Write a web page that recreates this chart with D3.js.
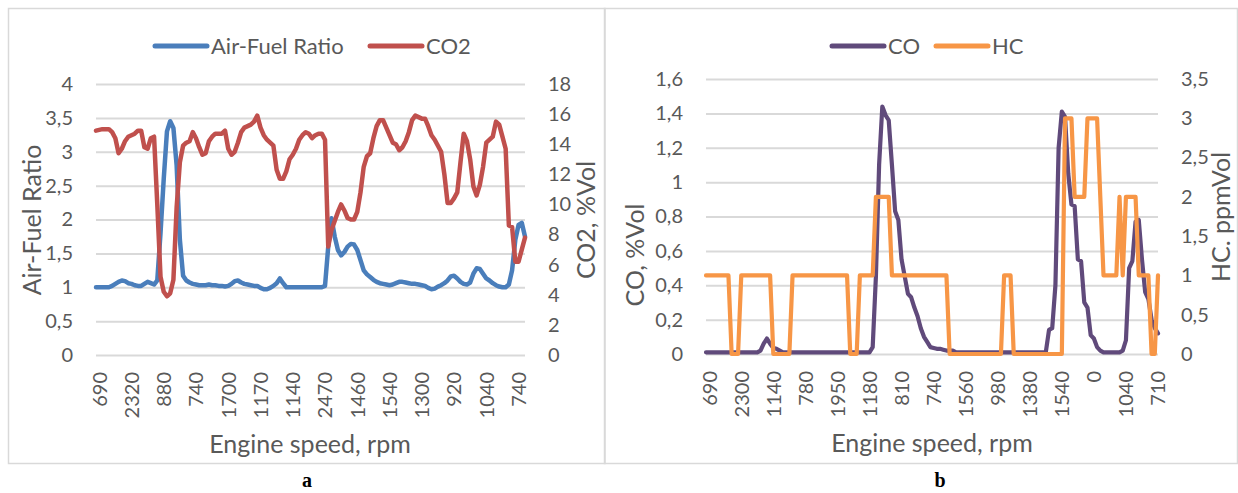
<!DOCTYPE html>
<html>
<head>
<meta charset="utf-8">
<script src="https://cdn.jsdelivr.net/npm/d3@7"></script>
<style>
  html, body { margin: 0; padding: 0; background: #fff; }
  svg { display: block; }
  text { font-family: Lato, "Open Sans", sans-serif; fill: #595959; }
  .panel-letter { font-family: "Liberation Serif", "Times New Roman", serif; font-weight: bold; fill: #000; }
</style>
</head>
<body>
<svg id="chart" width="1238" height="493"></svg>
<script>
// ---- Panel a: air-fuel ratio and CO2 against engine speed ----
const speedLabelsA = ["690","2320","880","740","1700","1170","1140","2470","1460","1540","1300","920","1040","740"];

const airFuelRatio = [
  1.0, 1.0, 1.0, 1.0, 1.0, 1.02, 1.05, 1.08, 1.1, 1.09,
  1.06, 1.05, 1.03, 1.02, 1.02, 1.05, 1.08, 1.06, 1.04, 1.1,
  1.8, 2.6, 3.3, 3.45, 3.35, 2.8, 1.7, 1.17, 1.1, 1.07,
  1.05, 1.04, 1.03, 1.03, 1.03, 1.04, 1.03, 1.03, 1.02, 1.02,
  1.01, 1.02, 1.05, 1.09, 1.1, 1.07, 1.05, 1.04, 1.03, 1.02,
  1.02, 0.99, 0.97, 0.97, 0.99, 1.02, 1.06, 1.13, 1.06, 1.0,
  1.0, 1.0, 1.0, 1.0, 1.0, 1.0, 1.0, 1.0, 1.0, 1.0,
  1.0, 1.02, 1.6, 2.02, 1.75, 1.55, 1.47, 1.52, 1.6, 1.64,
  1.63, 1.55, 1.4, 1.25, 1.19, 1.15, 1.11, 1.08, 1.06, 1.05,
  1.04, 1.03, 1.04, 1.06, 1.08, 1.08, 1.07, 1.06, 1.05, 1.05,
  1.04, 1.03, 1.02, 0.99, 0.97, 0.98, 1.01, 1.03, 1.06, 1.1,
  1.16, 1.17, 1.13, 1.08, 1.05, 1.04, 1.07, 1.2, 1.28, 1.27,
  1.2, 1.13, 1.1, 1.06, 1.03, 1.01, 1.0, 1.0, 1.04, 1.25,
  1.7, 1.92, 1.95, 1.75
];

const co2 = [
  14.9, 14.95, 15.0, 15.0, 15.0, 14.8, 14.4, 13.4, 13.7, 14.2,
  14.5, 14.6, 14.7, 14.9, 14.9, 13.8, 13.7, 14.4, 14.5, 10.0,
  5.2, 4.2, 3.9, 4.1, 5.0, 9.8, 12.8, 13.9, 14.1, 14.2,
  14.8, 14.4, 13.8, 13.3, 13.4, 14.2, 14.5, 14.7, 14.7, 14.7,
  14.9, 13.7, 13.3, 13.5, 14.1, 14.8, 15.1, 15.2, 15.3, 15.5,
  15.9, 15.1, 14.6, 14.3, 14.1, 13.9, 12.3, 11.7, 11.7, 12.2,
  13.0, 13.3, 13.7, 14.3, 14.6, 14.8, 14.7, 14.4, 14.6, 14.7,
  14.7, 14.3, 7.2, 8.3, 8.9, 9.5, 10.0, 9.6, 9.1, 9.0,
  9.0, 9.5, 10.8, 12.5, 13.2, 13.4, 14.4, 15.2, 15.6, 15.6,
  15.1, 14.6, 14.1, 14.0, 13.6, 13.8, 14.2, 14.8, 15.6, 15.9,
  15.8, 15.7, 15.7, 15.2, 14.6, 14.3, 13.9, 13.5, 12.0, 10.1,
  10.1, 10.4, 10.8, 12.8, 14.7, 14.2, 13.0, 11.2, 10.6, 11.3,
  12.5, 14.1, 14.3, 14.5, 15.5, 15.3, 14.5, 13.7, 8.6, 8.5,
  6.2, 6.2, 7.0, 7.8
];

const afrTickLabels = ["0", "0,5", "1", "1,5", "2", "2,5", "3", "3,5", "4"];
const co2TickLabels = ["0", "2", "4", "6", "8", "10", "12", "14", "16", "18"];

// ---- Panel b: CO and HC against engine speed ----
const speedLabelsB = ["690","2300","1140","780","1950","1180","810","740","1560","980","1380","1540","0","1040","710"];

const co = [
  0.01, 0.01, 0.01, 0.01, 0.01, 0.01, 0.01, 0.01, 0.01, 0.01,
  0.01, 0.01, 0.01, 0.01, 0.01, 0.01, 0.01, 0.02, 0.06, 0.09,
  0.06, 0.035, 0.03, 0.02, 0.01, 0.01, 0.01, 0.01, 0.01, 0.01,
  0.01, 0.01, 0.01, 0.01, 0.01, 0.01, 0.01, 0.01, 0.01, 0.01,
  0.01, 0.01, 0.01, 0.01, 0.01, 0.01, 0.01, 0.01, 0.01, 0.01,
  0.01, 0.01, 0.04, 0.45, 1.1, 1.44, 1.39, 1.36, 1.1, 0.83,
  0.78, 0.55, 0.45, 0.35, 0.33, 0.27, 0.22, 0.15, 0.1, 0.07,
  0.04, 0.035, 0.03, 0.03, 0.025, 0.02, 0.02, 0.02, 0.01, 0.01,
  0.01, 0.01, 0.01, 0.01, 0.01, 0.01, 0.01, 0.01, 0.01, 0.01,
  0.01, 0.01, 0.01, 0.01, 0.01, 0.01, 0.01, 0.01, 0.01, 0.01,
  0.01, 0.01, 0.01, 0.01, 0.01, 0.01, 0.01, 0.14, 0.15, 0.4,
  1.2, 1.41, 1.38, 1.05, 0.87, 0.86, 0.55, 0.54, 0.3, 0.27,
  0.11, 0.09, 0.04, 0.02, 0.01, 0.01, 0.01, 0.01, 0.01, 0.01,
  0.02, 0.08, 0.5, 0.54, 0.77, 0.78, 0.55, 0.36, 0.32, 0.2,
  0.15, 0.12
];

const hc = [
  1, 1, 1, 1, 1, 1, 1, 1, 0, 0,
  0, 1, 1, 1, 1, 1, 1, 1, 1, 1,
  1, 0, 0, 0, 0, 0, 0, 1, 1, 1,
  1, 1, 1, 1, 1, 1, 1, 1, 1, 1,
  1, 1, 1, 1, 1, 0, 0, 0, 1, 1,
  1, 1, 1, 2, 2, 2, 2, 2, 1, 1,
  1, 1, 1, 1, 1, 1, 1, 1, 1, 1,
  1, 1, 1, 1, 1, 1, 0, 0, 0, 0,
  0, 0, 0, 0, 0, 0, 0, 0, 0, 0,
  0, 0, 0, 1, 1, 1, 0, 0, 0, 0,
  0, 0, 0, 0, 0, 0, 0, 0, 0, 0,
  0, 0, 3, 3, 3, 2, 2, 2, 2, 3,
  3, 3, 3, 2, 1, 1, 1, 1, 1, 2,
  1, 2, 2, 2, 2, 1, 1, 1, 1, 0,
  0, 1
];

const coTickLabels = ["0", "0,2", "0,4", "0,6", "0,8", "1", "1,2", "1,4", "1,6"];
const hcTickLabels = ["0", "0,5", "1", "1,5", "2", "2,5", "3", "3,5"];

// ---- drawing ----
const svg = d3.select("#chart");
const toNumber = s => +s.replace(",", ".");

function drawPanel(cfg) {
  const g = svg.append("g");

  // chart frame
  g.append("rect")
    .attr("x", cfg.frame[0]).attr("y", cfg.frame[1])
    .attr("width", cfg.frame[2]).attr("height", cfg.frame[3])
    .attr("fill", "none").attr("stroke", "#d9d9d9").attr("stroke-width", 1.5);

  const n = cfg.series[0].values.length;
  const x = d3.scaleLinear().domain([0, n - 1]).range([cfg.left, cfg.right]);
  const leftVals = cfg.leftTicks.map(toNumber);
  const rightVals = cfg.rightTicks.map(toNumber);
  const yL = d3.scaleLinear().domain([0, d3.max(leftVals)]).range([cfg.bottom, cfg.top]);
  const yR = d3.scaleLinear().domain([0, d3.max(rightVals)]).range([cfg.bottom, cfg.top]);

  // horizontal gridlines
  const grid = g.append("g")
    .attr("transform", `translate(${cfg.left},0)`)
    .call(d3.axisLeft(yL).tickValues(leftVals).tickSize(-(cfg.right - cfg.left)).tickFormat(""));
  grid.select(".domain").remove();
  grid.selectAll("line").attr("stroke", "#d9d9d9").attr("stroke-width", 2);

  // left value axis labels
  const axL = g.append("g")
    .attr("transform", `translate(${cfg.left},0)`)
    .call(d3.axisLeft(yL).tickValues(leftVals).tickSize(0).tickPadding(23)
      .tickFormat((d, i) => cfg.leftTicks[i]));
  axL.select(".domain").remove();
  axL.attr("font-family", null).attr("font-size", cfg.tickSize);

  // right value axis labels
  const axR = g.append("g")
    .attr("transform", `translate(${cfg.right},0)`)
    .call(d3.axisRight(yR).tickValues(rightVals).tickSize(0).tickPadding(23)
      .tickFormat((d, i) => cfg.rightTicks[i]));
  axR.select(".domain").remove();
  axR.attr("font-family", null).attr("font-size", cfg.tickSize);

  // category axis: engine speed, every tenth sample labelled
  const catIdx = cfg.categories.map((c, i) => i * cfg.labelStep);
  const axX = g.append("g")
    .attr("transform", `translate(0,${cfg.bottom})`)
    .call(d3.axisBottom(x).tickValues(catIdx).tickSize(0)
      .tickFormat((d, i) => cfg.categories[i]));
  axX.select(".domain").remove();
  axX.attr("font-family", null).attr("font-size", cfg.tickSize);
  axX.selectAll("text")
    .attr("transform", "rotate(-90)")
    .attr("text-anchor", "end")
    .attr("x", -17).attr("y", 0).attr("dy", "0.5em");

  // series lines (secondary-axis series drawn last, on top)
  cfg.series.forEach(s => {
    const y = s.axis === "left" ? yL : yR;
    g.append("path")
      .datum(s.values)
      .attr("fill", "none")
      .attr("stroke", s.color)
      .attr("stroke-width", cfg.lineWidth)
      .attr("stroke-linejoin", "round")
      .attr("stroke-linecap", "round")
      .attr("d", d3.line().x((d, i) => x(i)).y(d => y(d)));
  });

  // legend
  cfg.series.forEach(s => {
    g.append("line")
      .attr("x1", s.legendX).attr("x2", s.legendX + 52)
      .attr("y1", cfg.legendY).attr("y2", cfg.legendY)
      .attr("stroke", s.color).attr("stroke-width", 5).attr("stroke-linecap", "round");
    g.append("text")
      .attr("x", s.legendX + 56).attr("y", cfg.legendY).attr("dy", "0.36em")
      .attr("font-size", cfg.legendSize)
      .text(s.name);
  });

  // axis titles
  g.append("text")
    .attr("transform", `translate(${cfg.leftTitle[1]},${cfg.leftTitle[2]}) rotate(-90)`)
    .attr("text-anchor", "middle").attr("dy", "0.35em")
    .attr("font-size", cfg.titleSize).text(cfg.leftTitle[0]);
  g.append("text")
    .attr("transform", `translate(${cfg.rightTitle[1]},${cfg.rightTitle[2]}) rotate(-90)`)
    .attr("text-anchor", "middle").attr("dy", "0.35em")
    .attr("font-size", cfg.titleSize).text(cfg.rightTitle[0]);
  g.append("text")
    .attr("x", cfg.xTitle[1]).attr("y", cfg.xTitle[2])
    .attr("text-anchor", "middle")
    .attr("font-size", cfg.titleSize).text(cfg.xTitle[0]);

  // panel letter below the frame
  svg.append("text")
    .attr("class", "panel-letter")
    .attr("x", cfg.letter[1]).attr("y", cfg.letter[2])
    .attr("text-anchor", "middle")
    .attr("font-size", 20)
    .text(cfg.letter[0]);
}

drawPanel({
  frame: [8.5, 8.5, 596.5, 455],
  left: 96, right: 525, top: 84, bottom: 355,
  categories: speedLabelsA, labelStep: 10,
  leftTicks: afrTickLabels, rightTicks: co2TickLabels,
  series: [
    { name: "Air-Fuel Ratio", values: airFuelRatio, axis: "left", color: "#4a7ebb", legendX: 155 },
    { name: "CO2", values: co2, axis: "right", color: "#c0504d", legendX: 370 }
  ],
  lineWidth: 4.5, legendY: 46,
  tickSize: 20, legendSize: 22, titleSize: 25,
  leftTitle: ["Air-Fuel Ratio", 32, 220],
  rightTitle: ["CO2, %Vol", 586, 220],
  xTitle: ["Engine speed, rpm", 310, 453],
  letter: ["a", 307, 487]
});

drawPanel({
  frame: [604.5, 8.5, 633, 455],
  left: 706, right: 1158, top: 79, bottom: 354,
  categories: speedLabelsB, labelStep: 10,
  leftTicks: coTickLabels, rightTicks: hcTickLabels,
  series: [
    { name: "CO", values: co, axis: "left", color: "#604a7b", legendX: 832 },
    { name: "HC", values: hc, axis: "right", color: "#f79646", legendX: 936 }
  ],
  lineWidth: 4.2, legendY: 46,
  tickSize: 20, legendSize: 22, titleSize: 25,
  leftTitle: ["CO, %Vol", 635, 255],
  rightTitle: ["HC. ppmVol", 1221, 217],
  xTitle: ["Engine speed, rpm", 932, 452],
  letter: ["b", 940, 487]
});
</script>
</body>
</html>
